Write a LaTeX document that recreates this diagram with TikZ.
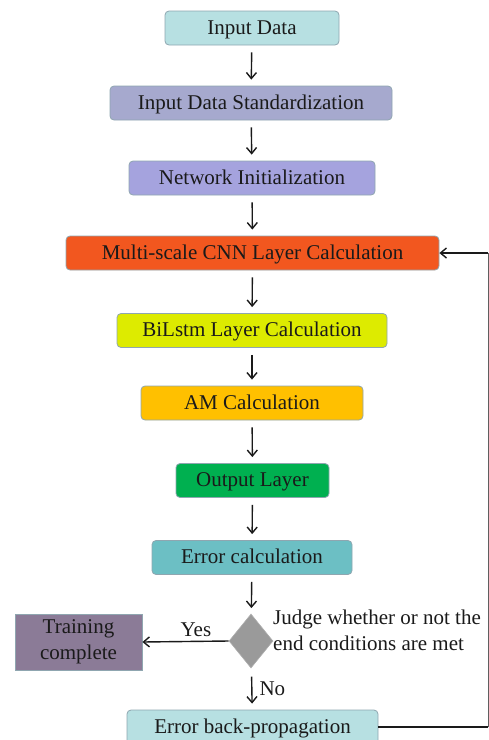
\documentclass[tikz,border=0pt]{standalone}
\usepackage{fontspec}
\setmainfont{Liberation Serif}
\newfontfamily\boxfont{Liberation Serif}
\usetikzlibrary{shapes.geometric,arrows.meta}

% box fills
\definecolor{cInput}{HTML}{B7E0E2}
\definecolor{cStd}{HTML}{A6A9CE}
\definecolor{cNet}{HTML}{A5A3DE}
\definecolor{cCnn}{HTML}{F2571F}
\definecolor{cBil}{HTML}{DDEB00}
\definecolor{cAm}{HTML}{FFC000}
\definecolor{cOut}{HTML}{00B050}
\definecolor{cErr}{HTML}{6CBFC4}
\definecolor{cDia}{HTML}{9A9A9A}
\definecolor{cTrain}{HTML}{8B7B97}
\definecolor{cEdge}{HTML}{8FA6B0}
\definecolor{cText}{HTML}{1A1A1A}

\tikzset{
  boxtext/.style={text=cText, font=\boxfont\fontsize{21}{26}\selectfont},
  stepbox/.style={boxtext, draw=cEdge, line width=0.8pt, rounded corners=4pt,
    minimum height=34pt, inner sep=0pt, text height=15pt, text depth=3pt},
  flowarrow/.style={line width=1.4pt, draw=cText,
    -{Straight Barb[length=6pt,width=10pt,line width=1.4pt]},
    shorten <=7pt, shorten >=6pt},
  lbl/.style={boxtext, inner sep=0pt}
}

\begin{document}
\begin{tikzpicture}[x=1pt, y=-1pt]
\useasboundingbox (0,0) rectangle (489,740);

% main column of steps
\node[stepbox, fill=cInput, minimum width=174pt] (input) at (252,28) {Input Data};
\node[stepbox, fill=cStd, minimum width=282pt] (std) at (251,103) {Input Data Standardization};
\node[stepbox, fill=cNet, minimum width=246pt] (net) at (252,178) {Network Initialization};
\node[stepbox, fill=cCnn, minimum width=373pt] (cnn) at (252.5,253) {Multi-scale CNN Layer Calculation};
\node[stepbox, fill=cBil, minimum width=270pt] (bil) at (252,330.5) {BiLstm Layer Calculation};
\node[stepbox, fill=cAm, minimum width=222pt] (am) at (252,403) {AM Calculation};
\node[stepbox, fill=cOut, minimum width=153pt] (out) at (252.5,480.5) {Output Layer};
\node[stepbox, fill=cErr, minimum width=200pt] (err) at (252,557.5) {Error calculation};

% decision
\node[diamond, fill=cDia, draw=cDia!80!white, line width=0.6pt,
      minimum width=44pt, minimum height=54pt, inner sep=0pt] (judge) at (251,641) {};
\node[lbl, anchor=west, align=left] (judgetxt) at (273,630)
  {Judge whether or not the\\end conditions are met};

% outcomes
\node[boxtext, draw=cEdge, line width=0.8pt, fill=cTrain, inner sep=0pt,
      minimum width=127pt, minimum height=56pt, align=center] (train) at (78.5,642)
  {Training\\complete};
\node[stepbox, fill=cInput, minimum width=251pt] (ebp) at (252.5,727) {Error back-propagation};

% forward connectors
\draw[flowarrow] (input) -- (std);
\draw[flowarrow] (std) -- (net);
\draw[flowarrow] (net) -- (cnn);
\draw[flowarrow] (cnn) -- (bil);
\draw[flowarrow] (bil) -- (am);
\draw[flowarrow] (am) -- (out);
\draw[flowarrow] (out) -- (err);
\draw[flowarrow] (err) -- (judge);
\draw[flowarrow, shorten <=9pt] (judge) -- node[lbl, right=7pt] (no) {No} (ebp);
\draw[flowarrow, shorten <=0pt, shorten >=0pt] (judge.west) --
  node[lbl, above=4pt, pos=0.38] (yes) {Yes} (train.east);

% feedback loop
\coordinate (loopcorner) at (488,727);
\coordinate (looptop) at (loopcorner |- cnn.east);
\draw[line width=1.4pt, draw=cText] (ebp.east) -- (loopcorner);
\draw[line width=0.8pt, draw=cText!70] (loopcorner) -- (looptop);
\draw[line width=1.4pt, draw=cText,
      -{Straight Barb[length=6pt,width=10pt,line width=1.4pt]}]
  (looptop) -- (cnn.east);
\end{tikzpicture}
\end{document}
